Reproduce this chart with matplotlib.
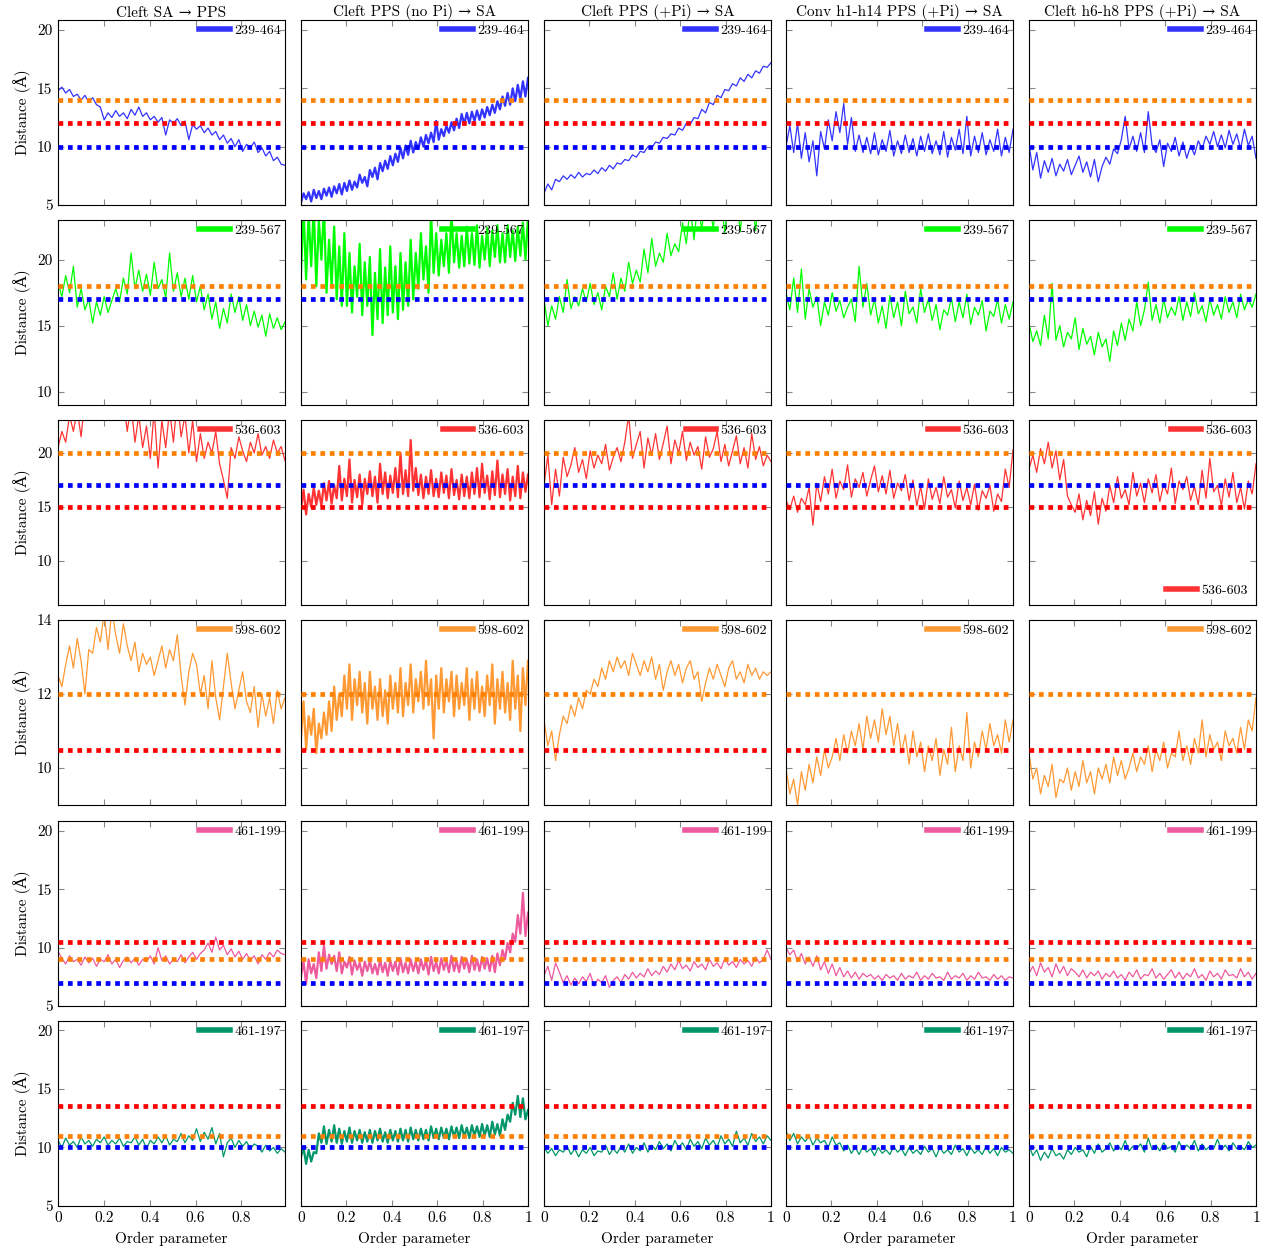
import numpy as np
import matplotlib
matplotlib.use("Agg")
import matplotlib.pyplot as plt
from matplotlib.lines import Line2D

plt.rcParams["font.family"] = ["cmr10", "DejaVu Serif"]
plt.rcParams["mathtext.fontset"] = "cm"
plt.rcParams["axes.formatter.use_mathtext"] = True

# --- titulos / etiquetas ---
titles = ["Cleft SA \u2192 PPS", "Cleft PPS (no Pi) \u2192 SA",
          "Cleft PPS (+Pi) \u2192 SA", "Conv h1-h14 PPS (+Pi) \u2192 SA",
          "Cleft h6-h8 PPS (+Pi) \u2192 SA"]
pares = ["239-464", "239-567", "536-603", "598-602", "461-199", "461-197"]
colores = ["#3333ff", "#00ff00", "#ff3333", "#ff9933", "#ee5a9e", "#00966a"]
ylims = [(5, 20.86), (9, 23), (5.9, 23.06), (9, 14), (5, 20.86), (5, 20.8)]
yticks = [[5, 10, 15, 20], [10, 15, 20], [10, 15, 20], [10, 12, 14], [5, 10, 15, 20], [5, 10, 15, 20]]
# lineas de referencia (valor, color)
refs = [
    [(14, "o"), (12, "r"), (10, "b")],
    [(18, "o"), (17, "b")],
    [(20, "o"), (17, "b"), (15, "r")],
    [(12, "o"), (10.5, "r")],
    [(10.5, "r"), (9, "o"), (7, "b")],
    [(13.5, "r"), (11, "o"), (10, "b")],
]
ref_col = {"o": "#ff8000", "r": "#ff0000", "b": "#0000ff"}

# --- fila 1: 239-464 ---
r1c1 = [14.8,15.1,14.6,14.9,14.3,14.5,14.0,14.4,13.8,14.2,13.6,13.4,12.3,12.9,12.5,13.1,12.6,12.9,12.4,13.2,
        12.7,13.4,12.6,12.9,12.3,12.6,12.1,12.5,11.0,12.3,12.0,12.4,11.8,12.2,10.6,11.9,11.5,11.8,11.2,11.6,
        11.0,11.3,10.6,11.0,10.3,10.7,10.0,10.6,9.6,10.2,9.9,10.4,9.5,9.9,9.2,9.6,8.8,9.1,8.5,8.4]
r1c2 = [5.2,6.0,5.5,6.1,5.3,6.3,5.6,6.2,5.5,6.4,5.8,6.5,5.7,6.6,6.0,6.8,5.9,6.9,6.2,7.1,6.3,7.0,6.5,7.6,6.9,7.4,
        6.6,8.0,7.4,8.2,7.2,8.6,7.9,8.8,8.1,9.2,8.4,9.4,8.7,9.9,9.0,10.1,9.3,10.5,9.5,10.4,9.8,10.8,10.0,11.0,
        10.3,11.2,10.4,12.2,10.6,11.5,10.9,11.8,11.2,12.1,11.4,12.4,11.6,12.8,11.9,12.9,12.0,13.0,12.2,13.1,
        12.3,13.2,12.5,13.4,12.7,13.6,12.9,13.9,13.2,14.3,13.5,14.6,13.6,15.0,13.9,15.3,14.1,15.6,14.3,15.9]
r1c3 = [6.0,6.8,6.3,7.2,7.0,7.5,7.2,7.6,7.3,7.8,7.4,7.7,7.6,8.0,7.7,8.2,7.9,8.4,8.1,8.6,8.5,8.9,8.8,9.3,9.1,9.6,
        9.5,10.0,9.9,10.4,10.3,10.8,10.7,11.1,11.0,11.6,11.4,12.0,11.9,12.5,12.4,13.2,12.9,13.8,13.6,14.4,14.2,
        14.9,14.8,15.4,15.2,15.9,15.6,16.2,15.9,16.5,16.3,16.9,16.8,17.2]
r1c4 = [10.0,11.8,9.5,12.0,9.0,11.2,8.7,10.5,7.5,11.3,9.8,12.3,10.5,13.0,11.2,13.7,10.2,12.5,9.6,11.0,9.5,10.8,
        9.4,11.2,9.3,10.6,9.6,11.4,9.2,10.5,9.4,11.0,9.5,10.7,9.2,10.9,9.6,11.1,9.4,10.5,9.3,11.3,9.1,10.8,9.7,
        11.5,9.4,12.6,9.2,10.9,9.5,11.2,9.3,10.6,9.6,11.5,9.2,10.8,9.5,11.5]
r1c5 = [10.2,8.0,9.5,7.3,8.8,7.8,9.0,7.5,8.5,7.9,8.9,7.6,8.4,9.2,7.8,8.7,7.4,8.9,7.0,8.3,9.1,8.5,9.8,9.4,10.6,
        12.6,9.8,10.9,9.6,11.2,9.5,13.0,10.1,9.5,10.6,8.3,10.3,9.6,10.8,9.2,10.4,9.0,10.1,9.3,10.5,9.8,10.9,10.2,
        11.3,10.0,11.0,9.9,11.4,10.2,11.1,9.8,11.5,10.1,10.9,9.0]

# --- fila 2: 239-567 ---
r2c1 = [18.3,17.2,18.8,17.5,19.5,16.4,17.8,16.2,17.0,15.2,16.8,15.8,17.2,16.0,16.9,17.8,16.8,18.6,17.4,20.5,
        17.8,19.2,17.6,18.9,17.3,19.8,17.8,18.5,17.1,20.5,17.6,19.0,17.2,18.6,17.0,18.8,16.8,18.0,16.2,17.4,
        15.5,16.8,14.8,16.3,15.2,17.4,16.0,17.2,15.4,16.6,15.0,16.1,14.9,15.8,14.2,15.9,14.8,15.6,14.7,15.3]
r2c2 = [19.0,24.0,18.5,23.5,19.5,24.0,18.0,23.0,20.0,24.0,17.5,21.5,18.0,22.5,17.0,21.0,16.5,22.0,16.5,20.5,
        16.0,19.5,17.2,21.2,15.8,19.8,16.5,20.2,14.3,19.0,15.5,20.8,15.2,19.4,15.8,21.0,16.0,19.5,15.5,20.5,
        16.2,19.8,16.5,21.5,17.0,20.5,17.8,22.0,18.5,21.0,17.5,23.5,19.0,22.0,18.8,21.5,19.5,22.0,19.0,23.5,
        19.8,22.0,19.4,21.8,19.5,22.5,19.7,22.0,19.6,22.6,19.4,21.8,20.0,22.4,19.5,22.2,20.2,22.6,19.8,22.0,
        19.8,22.6,20.2,22.2,19.9,22.5,20.3,22.8,20.0,23.2]
r2c3 = [17.0,15.0,16.5,15.5,17.2,16.0,18.5,16.3,17.2,16.5,17.8,16.8,18.2,16.6,17.5,16.2,18.0,17.2,19.0,17.0,
        18.6,17.6,19.8,18.2,19.2,18.3,20.8,19.0,21.6,19.5,20.5,19.8,22.0,20.3,21.2,20.6,22.8,21.2,24.0,21.5,
        24.5,22.2,25.0,24.0,22.4,25.0,24.5,22.0,25.0,24.5,25.0,22.1,25.0,24.8,25.0,22.2,25.0,24.6,25.0,23.5]
r2c4 = [17.5,16.2,18.6,16.0,19.3,15.5,17.8,16.4,17.2,15.0,16.8,15.8,17.5,16.1,16.9,15.6,16.4,17.0,15.3,19.5,
        16.4,18.2,15.8,17.0,15.2,16.5,14.8,17.3,15.6,16.8,15.0,17.6,15.9,16.4,15.2,17.8,16.0,17.0,15.4,16.6,
        14.7,16.2,15.8,17.1,15.3,16.8,15.6,17.4,15.1,16.4,15.8,16.9,14.6,16.1,15.7,17.0,15.2,16.6,15.5,16.8]
r2c5 = [15.2,13.8,14.6,13.5,15.8,14.0,18.2,13.9,15.0,13.4,14.5,14.0,15.6,13.2,14.8,13.6,14.2,12.8,14.5,13.4,
        14.0,12.3,14.6,13.5,15.2,13.9,15.5,14.6,16.8,15.0,16.2,18.3,15.4,16.6,15.2,17.0,15.6,16.4,15.8,17.2,
        15.4,16.8,15.7,17.5,15.9,16.5,15.3,17.0,15.8,16.6,15.5,17.2,16.0,16.8,15.6,17.4,16.2,17.0,16.4,17.4]

# --- fila 3: 536-603 ---
r3c1 = [20.5,22.0,21.0,23.5,22.0,24.0,21.5,25.0,24.0,25.0,24.5,25.0,24.0,25.0,24.5,25.0,24.0,25.0,22.0,24.5,
        21.0,23.5,20.5,22.5,19.5,24.0,18.6,23.0,20.5,24.0,21.0,25.0,21.5,23.5,20.0,23.0,19.2,21.8,19.5,21.0,
        20.0,22.0,19.0,17.5,15.8,20.5,19.5,21.5,20.2,19.2,21.0,20.0,21.8,19.8,20.6,19.5,21.2,20.0,20.6,19.3]
r3c2 = [14.8,16.6,14.3,16.2,15.0,16.8,15.2,16.5,15.1,17.2,15.6,17.4,15.3,17.0,15.8,18.8,15.6,17.6,16.0,19.4,
        15.4,17.5,15.9,18.0,15.2,17.6,16.2,18.3,16.0,17.8,15.4,19.0,16.2,18.2,15.8,17.9,16.3,18.6,15.9,20.0,
        16.2,18.4,16.0,21.2,16.5,18.6,16.1,18.0,15.8,17.8,16.2,18.4,16.0,17.6,15.9,18.2,16.3,17.9,15.8,18.5,
        16.1,17.5,15.7,18.0,16.0,17.8,15.8,18.2,16.2,18.6,15.9,19.0,16.3,17.9,15.7,18.3,16.1,19.3,15.9,18.0,
        16.2,18.5,15.6,17.8,16.0,18.8,15.8,18.2,16.4,18.0]
r3c3 = [17.0,19.8,15.2,18.5,16.0,19.6,17.8,18.9,20.5,18.2,19.4,17.6,20.2,18.6,19.8,19.0,20.8,18.4,19.6,20.5,
        19.2,21.0,23.5,19.5,20.8,22.0,18.6,21.4,19.8,21.8,19.4,20.9,22.5,19.0,21.2,20.0,22.0,19.3,21.0,19.8,
        20.6,18.5,21.5,19.6,20.4,22.0,19.2,20.8,18.8,20.2,21.6,19.0,20.5,18.6,21.8,19.4,20.6,18.8,19.8,19.2]
r3c4 = [15.6,14.8,16.0,14.5,15.8,15.2,16.8,13.3,17.2,15.5,17.8,16.2,18.5,15.8,17.4,16.6,18.9,15.9,17.6,16.8,
        18.2,16.0,17.5,18.8,16.4,17.9,16.2,18.4,15.8,17.2,16.5,18.0,15.6,17.5,15.1,16.9,14.8,17.6,15.7,16.8,
        15.3,17.8,15.9,16.6,14.9,17.4,15.6,16.8,15.2,17.1,14.7,16.5,15.8,17.0,14.6,16.2,15.5,18.5,16.8,20.3]
r3c5 = [18.5,19.8,18.2,20.4,19.0,21.0,18.6,20.2,17.5,19.4,16.0,15.2,14.5,16.2,13.8,15.6,14.2,16.4,13.4,15.8,
        14.6,17.0,15.4,17.8,15.8,16.6,15.2,18.2,16.0,17.2,15.4,17.6,16.3,18.0,15.5,17.1,16.2,18.6,15.3,17.4,
        16.6,17.8,15.6,16.9,15.2,18.4,15.8,19.5,16.4,17.0,15.1,17.6,15.9,18.2,15.4,16.8,14.8,17.4,16.2,19.0]

# --- fila 4: 598-602 ---
r4c1 = [12.5,12.2,12.8,13.3,12.7,13.5,12.9,12.0,13.2,13.1,13.8,13.4,14.2,13.2,14.3,13.6,13.1,13.9,13.3,12.9,
        13.4,12.6,13.1,12.8,13.0,12.5,12.9,13.3,12.7,13.2,12.9,13.6,12.5,11.7,12.6,13.1,12.8,12.0,12.5,11.6,
        12.9,11.9,11.3,12.2,13.1,12.3,11.6,12.1,12.6,11.8,11.5,12.2,11.1,12.0,11.4,11.9,11.2,12.1,11.6,11.9]
r4c2 = [10.8,11.8,10.5,11.4,10.9,11.6,10.4,11.2,10.8,11.5,10.9,11.8,11.0,12.2,11.3,12.0,11.4,12.5,11.6,12.8,
        11.3,12.4,11.7,12.6,11.5,12.3,11.2,12.6,11.6,12.2,11.3,12.4,11.4,12.1,11.2,12.5,11.6,12.3,11.5,12.7,
        11.4,12.3,11.7,12.8,11.5,12.4,11.8,12.6,11.6,12.9,11.7,12.4,10.8,12.5,11.6,12.7,11.5,12.4,11.8,12.6,
        11.4,12.5,11.6,12.3,11.7,12.7,11.3,12.4,11.6,12.6,11.5,12.2,11.4,12.5,11.7,12.8,11.2,12.4,11.6,12.6,
        11.5,12.3,11.3,12.9,11.6,12.5,11.0,12.7,11.7,12.9]
r4c3 = [11.3,10.6,11.0,10.2,10.9,11.4,11.2,11.7,11.4,11.9,11.6,12.1,12.0,12.4,12.2,12.7,12.4,12.9,12.6,13.0,
        12.7,12.9,12.5,13.1,12.8,12.5,12.9,12.6,13.0,12.4,12.8,12.1,12.6,12.9,12.5,12.8,12.3,12.7,12.9,12.4,
        12.6,11.8,12.3,12.7,12.4,12.8,12.5,12.2,12.7,12.9,12.4,12.6,12.3,12.8,12.5,12.7,12.4,12.6,12.5,12.6]
r4c4 = [10.0,9.3,9.7,9.0,9.9,9.4,10.1,9.6,10.3,9.8,10.5,10.0,10.3,10.8,10.2,10.9,10.4,11.0,10.6,11.2,10.5,11.4,
        10.8,11.3,10.7,11.6,10.9,11.4,10.6,11.2,10.4,10.9,10.1,11.0,10.3,10.7,9.9,10.6,10.2,10.8,9.8,10.5,10.1,
        11.1,9.9,10.6,10.2,11.5,10.0,10.7,10.3,11.0,10.5,11.2,10.6,10.9,10.4,11.3,10.7,11.3]
r4c5 = [10.4,9.7,10.0,9.3,9.8,9.5,10.1,9.2,9.7,9.6,10.0,9.4,9.9,9.5,10.2,9.6,9.9,9.3,10.0,9.7,10.1,9.6,10.3,
        9.8,10.2,9.7,10.0,10.4,9.9,10.3,10.1,10.6,9.9,10.5,10.2,10.7,10.0,10.4,10.3,11.0,10.2,10.6,10.1,10.8,
        10.4,11.3,10.3,10.9,10.5,10.7,10.2,11.0,10.6,10.8,10.4,11.1,10.5,11.3,11.0,11.9]

# --- fila 5: 461-199 ---
r5c1 = [9.7,9.1,8.6,9.3,8.8,9.0,8.5,9.2,8.7,9.1,8.4,9.0,8.8,9.4,8.6,9.0,8.3,8.9,9.2,8.7,9.1,8.5,9.0,8.8,9.3,
        8.6,10.0,8.9,9.3,8.6,9.0,8.8,9.4,8.7,9.2,9.6,9.0,9.5,9.8,10.4,9.6,10.9,9.8,10.2,9.4,9.9,9.2,9.7,9.0,9.5,
        8.9,9.3,8.6,9.4,9.0,9.6,9.2,9.8,9.5,9.4]
r5c2 = [7.6,8.8,6.9,9.0,7.8,8.6,7.4,9.6,8.0,10.2,8.2,9.4,8.6,9.3,8.0,9.6,7.8,8.8,8.3,9.2,7.7,8.9,8.1,8.7,7.6,
        8.8,8.0,8.9,7.8,8.6,7.7,9.0,7.9,8.7,7.6,8.9,8.0,8.8,7.7,9.1,7.9,8.7,7.8,9.0,8.0,8.8,7.8,9.0,8.1,8.9,
        7.7,9.2,8.0,8.8,7.8,9.1,8.1,8.9,7.9,9.3,8.0,8.9,7.9,9.2,8.2,9.0,7.9,9.3,8.1,9.0,8.0,9.2,8.2,9.1,8.0,
        9.3,7.9,9.5,8.5,9.8,9.0,10.4,9.6,11.2,10.5,12.8,11.2,14.7,11.0,13.0]
r5c3 = [7.6,8.4,7.2,8.7,7.9,7.0,7.6,6.8,7.4,6.9,7.5,7.1,7.8,6.7,7.3,7.0,7.6,6.6,7.2,7.5,7.0,7.7,7.3,7.9,7.4,
        7.8,7.5,8.2,7.6,8.0,7.7,8.4,7.9,8.6,8.1,8.9,8.2,8.5,8.0,8.8,8.3,8.6,8.1,9.0,8.4,8.7,8.2,9.1,8.5,8.8,
        8.3,9.0,8.6,8.9,8.4,9.2,8.7,9.0,9.8,9.0]
r5c4 = [10.0,9.4,9.8,8.8,9.5,8.6,9.2,8.4,9.3,8.1,8.8,7.8,8.6,7.6,8.3,7.5,8.0,7.4,7.9,7.3,7.8,7.5,7.7,7.3,7.6,
        7.2,7.7,7.4,7.6,7.2,7.8,7.3,7.6,7.4,7.9,7.2,7.6,7.3,7.8,7.4,7.5,7.2,7.9,7.3,7.6,7.4,7.8,7.2,7.6,7.3,
        7.9,7.4,7.5,7.2,7.7,7.3,7.6,7.2,7.5,7.4]
r5c5 = [7.8,8.4,7.6,8.7,7.9,8.3,7.5,8.6,7.8,8.4,7.6,8.2,7.9,7.5,8.1,7.4,7.9,7.6,8.0,7.3,7.8,7.5,8.0,7.4,7.7,
        7.2,7.9,7.5,8.1,7.3,7.7,7.6,8.2,7.4,7.8,7.3,7.7,8.1,7.4,7.9,7.3,7.8,7.5,8.2,7.4,7.7,7.2,8.0,7.5,7.8,
        7.3,8.1,7.6,7.7,7.4,8.2,7.5,7.9,7.3,7.8]

# --- fila 6: 461-197 ---
r6c1 = [10.6,10.0,10.8,10.2,10.5,10.0,10.9,10.3,10.6,10.1,10.7,10.4,10.9,10.2,10.6,10.3,10.8,10.1,10.5,10.4,
        10.9,10.2,10.7,9.9,10.6,10.3,10.9,10.4,11.0,10.2,10.7,10.5,11.2,10.4,11.0,10.6,11.6,10.5,11.3,10.7,
        11.7,10.3,11.2,9.2,10.4,10.8,10.0,10.6,10.1,10.5,9.9,10.3,10.1,9.6,10.2,9.7,10.0,9.5,9.9,9.6]
r6c2 = [9.2,10.0,8.6,9.8,8.8,9.6,9.5,11.2,10.4,11.8,10.3,11.5,10.5,11.9,10.4,11.6,10.3,11.4,10.5,11.7,10.4,
        11.4,10.6,11.5,10.4,11.3,10.5,11.5,10.4,11.4,10.6,11.6,10.5,11.3,10.4,11.5,10.6,11.4,10.5,11.6,10.6,
        11.5,10.5,11.7,10.7,11.5,10.6,11.6,10.7,11.5,10.6,11.8,10.8,11.6,10.7,11.7,10.8,11.6,10.7,11.8,10.9,
        11.7,10.8,11.9,10.9,11.7,10.8,11.9,11.0,11.8,10.9,12.0,11.0,11.9,10.9,12.2,11.1,12.0,11.0,12.4,11.5,
        12.8,12.2,13.8,12.8,14.4,12.6,14.2,12.4,13.2]
r6c3 = [10.0,9.5,9.9,9.3,9.8,9.6,10.1,9.4,9.9,9.2,9.8,9.5,10.0,9.3,9.7,9.6,10.2,9.4,9.9,9.5,10.1,9.6,10.3,9.5,
        10.0,9.7,10.4,9.6,10.2,9.8,10.5,9.9,10.3,9.7,10.6,10.0,10.4,9.8,10.7,10.1,10.5,9.9,10.8,10.2,10.6,10.0,
        11.0,10.3,10.7,10.1,11.4,10.4,10.8,10.2,11.2,10.5,10.9,10.3,11.0,10.6]
r6c4 = [11.4,10.6,11.2,10.3,10.9,10.5,11.0,10.2,10.8,10.4,10.6,10.0,10.9,10.2,10.4,9.7,10.2,9.5,10.0,9.4,10.1,
        9.6,9.9,9.3,10.0,9.5,9.8,9.4,10.1,9.6,9.9,9.3,10.0,9.5,9.8,9.4,10.1,9.6,9.9,9.2,10.0,9.5,9.8,9.4,10.2,
        9.6,9.9,9.3,10.0,9.5,9.8,9.4,10.1,9.5,9.9,9.3,10.0,9.6,9.8,9.5]
r6c5 = [10.2,9.3,9.8,8.9,9.6,9.1,9.9,9.3,9.5,9.0,9.8,9.4,10.0,9.6,9.8,9.2,10.1,9.5,10.3,9.6,9.9,10.4,9.7,10.2,
        9.8,10.6,9.7,10.1,9.9,10.3,9.6,10.8,9.8,10.2,9.7,10.4,9.9,10.1,9.6,10.5,9.8,10.2,9.9,10.6,9.7,10.3,9.8,
        10.1,9.9,10.7,9.8,10.2,9.7,10.4,9.9,10.1,9.8,10.5,10.0,10.2]

datos = [
    [r1c1, r1c2, r1c3, r1c4, r1c5],
    [r2c1, r2c2, r2c3, r2c4, r2c5],
    [r3c1, r3c2, r3c3, r3c4, r3c5],
    [r4c1, r4c2, r4c3, r4c4, r4c5],
    [r5c1, r5c2, r5c3, r5c4, r5c5],
    [r6c1, r6c2, r6c3, r6c4, r6c5],
]

W, H = 1267, 1252
fig = plt.figure(figsize=(W / 100, H / 100), dpi=100)

col_left = [58, 301, 544, 786, 1029]
row_top = [20, 220, 420, 620, 821, 1021]
pw, ph = 227, 185

for i in range(6):
    for j in range(5):
        ax = fig.add_axes([col_left[j] / W, 1 - (row_top[i] + ph) / H, pw / W, ph / H])
        y = np.array(datos[i][j])
        xmax = 0.99 if j == 0 else 1.0
        x = np.linspace(0, xmax, len(y))
        lw = 1.6 if j == 1 else 0.9  # la corrida "no Pi" es mucho mas densa
        ax.plot(x, y, color=colores[i], lw=lw, zorder=2)
        for val, c in refs[i]:
            ax.axhline(val, color=ref_col[c], lw=3.4, ls=(0, (1, 1)), zorder=3)
        ax.set_xlim(0, xmax)
        ax.set_ylim(*ylims[i])
        ax.set_yticks(yticks[i])
        ax.set_xticks([0, 0.2, 0.4, 0.6, 0.8] if j == 0 else [0, 0.2, 0.4, 0.6, 0.8, 1.0])
        ax.tick_params(direction="in", length=4.5, color="#888888", top=True, right=True,
                       labelsize=11, pad=4)
        for s in ax.spines.values():
            s.set_linewidth(0.8)
        if j == 0:
            ax.set_yticklabels([str(t) for t in yticks[i]])
            ax.set_ylabel("Distance (Å)", fontsize=11, labelpad=4)
        else:
            ax.set_yticklabels([])
        if i == 5:
            ax.set_xticklabels(["0", "0.2", "0.4", "0.6", "0.8", "1"][:len(ax.get_xticks())])
            ax.set_xlabel("Order parameter", fontsize=11, labelpad=5)
        else:
            ax.set_xticklabels([])
        if i == 0:
            ax.set_title(titles[j], fontsize=11, pad=2)
        h = Line2D([], [], color=colores[i], lw=4)
        leg = ax.legend([h], [pares[i]], loc="upper right", frameon=False, fontsize=10,
                        handlelength=2.2, handletextpad=0.3, borderaxespad=0.25, borderpad=0.05)
        if i == 2 and j == 4:
            ax.add_artist(leg)
            ax.legend([h], [pares[i]], loc="lower right", frameon=False, fontsize=10,
                      handlelength=2.2, handletextpad=0.3, borderaxespad=0.25, borderpad=0.35)

fig.savefig("out.png", dpi=100)
